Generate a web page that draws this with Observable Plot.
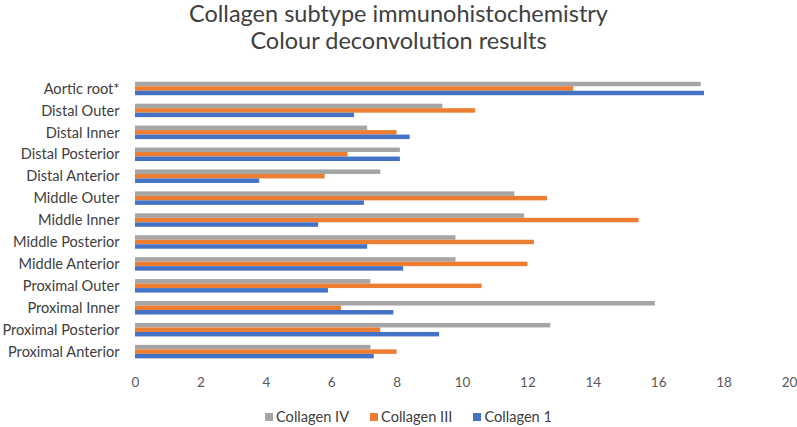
<!DOCTYPE html>
<html>
<head>
<meta charset="utf-8">
<script src="https://cdn.jsdelivr.net/npm/d3@7"></script>
<script src="https://cdn.jsdelivr.net/npm/@observablehq/plot@0.6"></script>
<style>
  body { margin: 0; background: #fff; font-family: Lato, "Open Sans", sans-serif; }
  #wrap { position: relative; width: 797px; height: 427px; overflow: hidden; }
  .tl { position: absolute; left: 0; width: 797px; text-align: center;
        font-size: 23.5px; line-height: 26px; color: #404040; }
  #chart { position: absolute; left: 0; top: 0; }
  #legend { position: absolute; left: 265px; top: 408px; font-size: 14.6px; line-height: 18px;
            color: #404040; display: flex; gap: 21px; white-space: nowrap; }
  .item { display: flex; align-items: center; gap: 3px; }
  .sw { width: 8px; height: 8px; display: inline-block; }
</style>
</head>
<body>
<div id="wrap">
  <div class="tl" style="top:0px">Collagen subtype immunohistochemistry</div>
  <div class="tl" style="top:27px">Colour deconvolution results</div>
  <div id="chart"></div>
  <div id="legend"></div>
</div>
<script>
const categories = [
  "Aortic root*", "Distal Outer", "Distal Inner", "Distal Posterior", "Distal Anterior",
  "Middle Outer", "Middle Inner", "Middle Posterior", "Middle Anterior",
  "Proximal Outer", "Proximal Inner", "Proximal Posterior", "Proximal Anterior"
];
const collagenIV  = [17.3,  9.4, 7.1, 8.1, 7.5, 11.6, 11.9,  9.8,  9.8,  7.2, 15.9, 12.7, 7.2];
const collagenIII = [13.4, 10.4, 8.0, 6.5, 5.8, 12.6, 15.4, 12.2, 12.0, 10.6,  6.3,  7.5, 8.0];
const collagen1   = [17.4,  6.7, 8.4, 8.1, 3.8,  7.0,  5.6,  7.1,  8.2,  5.9,  7.9,  9.3, 7.3];
const seriesNames = ["Collagen IV", "Collagen III", "Collagen 1"];
const seriesColors = ["#A5A5A5", "#ED7D31", "#4472C4"];
const xTicks = [0, 2, 4, 6, 8, 10, 12, 14, 16, 18, 20];

const seriesValues = [collagenIV, collagenIII, collagen1];
const data = categories.flatMap((c, i) =>
  seriesNames.map((s, k) => ({category: c, series: s, value: seriesValues[k][i]})));

const bh = 4.5;
const barMarks = seriesNames.map((s, k) =>
  Plot.barX(data.filter(d => d.series === s), {
    x: "value", y: "category", fill: seriesColors[k],
    insetTop: k * bh, insetBottom: (2 - k) * bh
  }));

const chart = Plot.plot({
  width: 797, height: 427,
  marginTop: 77, marginBottom: 65, marginLeft: 135, marginRight: 8,
  style: {fontFamily: "Lato, 'Open Sans', sans-serif", background: "transparent"},
  x: {domain: [0, 20], ticks: xTicks, tickSize: 0, tickPadding: 15, label: null, tickFormat: d => String(d)},
  y: {domain: categories, range: [73.3, 366.8], padding: 0.385, round: false, tickSize: 0, tickPadding: 16, label: null},
  marks: [
    Plot.ruleX(xTicks, {stroke: "#D9D9D9", strokeWidth: 1, y1: 77, y2: 362}),
    ...barMarks,
    Plot.axisX({ticks: xTicks, tickSize: 0, tickPadding: 15, fontSize: 13.5, color: "#595959", label: null, tickFormat: d => String(d)}),
    Plot.axisY({tickSize: 0, tickPadding: 16, fontSize: 14.6, color: "#404040", label: null})
  ]
});
document.getElementById("chart").appendChild(chart);

const legend = document.getElementById("legend");
seriesNames.forEach((s, k) => {
  const it = document.createElement("div");
  it.className = "item";
  const sw = document.createElement("span");
  sw.className = "sw";
  sw.style.background = seriesColors[k];
  const tx = document.createElement("span");
  tx.textContent = s;
  it.appendChild(sw); it.appendChild(tx);
  legend.appendChild(it);
});
</script>
</body>
</html>
